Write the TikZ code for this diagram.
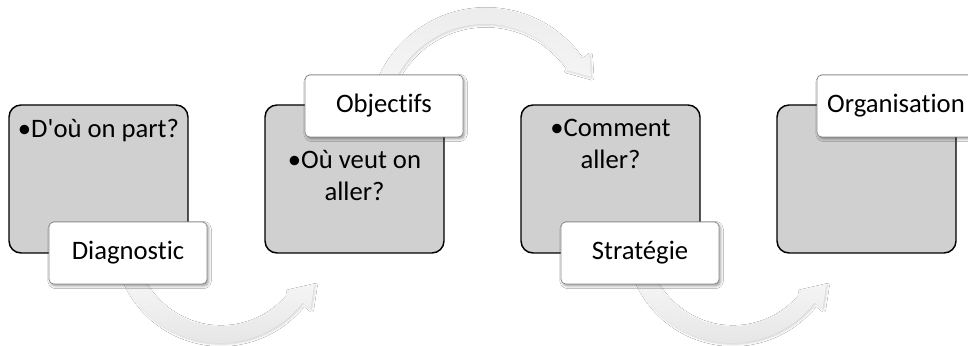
\documentclass[tikz,border=0pt]{standalone}
\usepackage{fontspec}
\setmainfont{Carlito}[Ligatures={TeXOff,NoCommon}]
\usetikzlibrary{calc,shadows.blur}
\definecolor{boxgray}{RGB}{208,208,208}
\definecolor{tagedge}{RGB}{140,140,140}
\newcommand\stepfont{\fontsize{20}{24}\selectfont}
\begin{document}
\begin{tikzpicture}[x=0.75pt,y=0.75pt,
  stepbox/.style={draw=black, line width=1.1pt, fill=boxgray, rounded corners=9pt,
    minimum width=134.25pt, minimum height=111pt, inner sep=0pt},
  tag/.style={draw=tagedge, line width=0.6pt, fill=white, rounded corners=3.5pt,
    minimum width=118.5pt, minimum height=46.5pt, inner sep=0pt, font=\stepfont,
    blur shadow={shadow xshift=1.2pt, shadow yshift=-1.5pt, shadow blur radius=2pt, shadow opacity=40}},
  bodytext/.style={font=\stepfont, align=center, inner sep=0pt, anchor=base},
  flowarrow/.style={draw=none,
    blur shadow={shadow xshift=0.8pt, shadow yshift=-1pt, shadow blur radius=1.5pt, shadow opacity=18}}
]
\path[use as bounding box, clip] (0,0) rectangle (968,346);
\fill[white] (0,0) rectangle (968,346);

% step boxes
\node[stepbox] (b1) at (98.5,167) {};
\node[stepbox] (b2) at (354.5,167) {};
\node[stepbox] (b3) at (610.5,167) {};
\node[stepbox] (b4) at (866.5,167) {};

% box contents (base anchor sits on the last line)
\node[bodytext] (t1) at (98.5,208) {•D'où on part?};
\node[bodytext] (t2) at (354.5,145) {•Où veut on\\aller?};
\node[bodytext] (t3) at (610.5,177) {•Comment\\aller?};

% arc centres of the curved arrows
\coordinate (c1) at (220,108);
\coordinate (c2) at (485,222);
\coordinate (c3) at (732,108);

% lower curved arrows
\path[flowarrow, top color=gray!5, bottom color=gray!22]
  ($(c1)+(200:105)$) arc[start angle=200, end angle=322, radius=105]
  -- ($(c1)+(322:115)$) -- ($(c1)+(334:105)$) -- ($(c1)+(322:85)$)
  -- ($(c1)+(322:88)$) arc[start angle=322, end angle=200, radius=88] -- cycle;
\path[flowarrow, top color=gray!5, bottom color=gray!22]
  ($(c3)+(200:105)$) arc[start angle=200, end angle=322, radius=105]
  -- ($(c3)+(322:115)$) -- ($(c3)+(334:105)$) -- ($(c3)+(322:85)$)
  -- ($(c3)+(322:88)$) arc[start angle=322, end angle=200, radius=88] -- cycle;

% upper curved arrow
\path[flowarrow, top color=gray!16, bottom color=gray!7]
  ($(c2)+(160:116)$) arc[start angle=160, end angle=34, radius=116]
  -- ($(c2)+(34:126)$) -- ($(c2)+(24:116)$) -- ($(c2)+(34:97)$)
  -- ($(c2)+(34:100)$) arc[start angle=34, end angle=160, radius=100] -- cycle;

% step titles
\node[tag] (l1) at (128,93) {Diagnostic};
\node[tag] (l2) at (384,240) {Objectifs};
\node[tag] (l3) at (640,93) {Stratégie};
\node[tag] (l4) at (896,240) {Organisation};
\end{tikzpicture}
\end{document}
